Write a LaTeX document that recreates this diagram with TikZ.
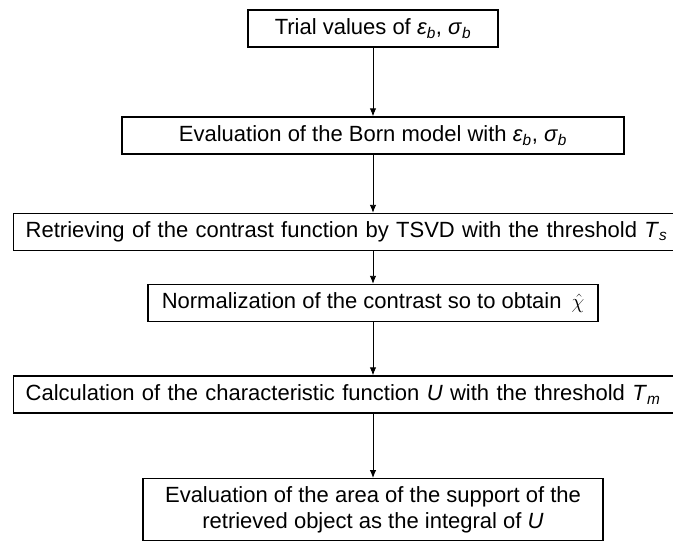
\documentclass[tikz,border=0pt]{standalone}
\usepackage{fontspec}
\setmainfont{Liberation Sans}
\usetikzlibrary{positioning, arrows.meta}
\tikzset{
	x=1pt, y=-1pt,
	>={Latex[length=8pt,width=6.5pt]},
	every node/.style={font=\fontsize{22}{26}\selectfont},
	stage/.style={draw, line width=1.4pt, minimum height=37pt, inner xsep=8pt, inner ysep=0pt},
	flow/.style={->, line width=0.9pt}}

\begin{document}
\begin{tikzpicture}
	
		\useasboundingbox (0,0) rectangle (673,541);
		\clip (0,0) rectangle (673,541);
		
		\node[stage, minimum width=250pt] (trial) at (373,28.5) {Trial values of \textit{ε}\textsubscript{\textit{b}}, \textit{σ}\textsubscript{\textit{b}}};
		\node[stage, minimum width=502pt] (born) at (373,135.5) {Evaluation of the Born model with \textit{ε}\textsubscript{\textit{b}}, \textit{σ}\textsubscript{\textit{b}}};
		\node[stage, anchor=west, minimum width=720pt, align=left, text width=700pt, inner xsep=12pt] (tsvd) at (13,232) {Retrieving of the contrast function by TSVD with the threshold \textit{T}\textsubscript{\textit{s}}};
		\node[stage, minimum width=450pt] (norm) at (373,303) {Normalization of the contrast so to obtain\hspace{0.45em}$\hat{\chi}$};
		\node[stage, anchor=west, minimum width=720pt, align=left, text width=700pt, inner xsep=12pt] (charf) at (13,394.5) {Calculation of the characteristic function \textit{U} with the threshold \textit{T}\textsubscript{\textit{m}}};
		\node[stage, anchor=north, minimum width=460pt, minimum height=62pt, align=center] (area) at (373,478) {Evaluation of the area of the support of the\\retrieved object as the integral of \textit{U}};
		
		\draw[flow] (trial) -- (born);
		\draw[flow] (born) -- (tsvd.north -| born.center);
		\draw[flow] (tsvd.south -| norm.center) -- (norm);
		\draw[flow] (norm) -- (charf.north -| norm.center);
		\draw[flow] (charf.south -| area.center) -- (area);
	
	\end{tikzpicture}
\end{document}
